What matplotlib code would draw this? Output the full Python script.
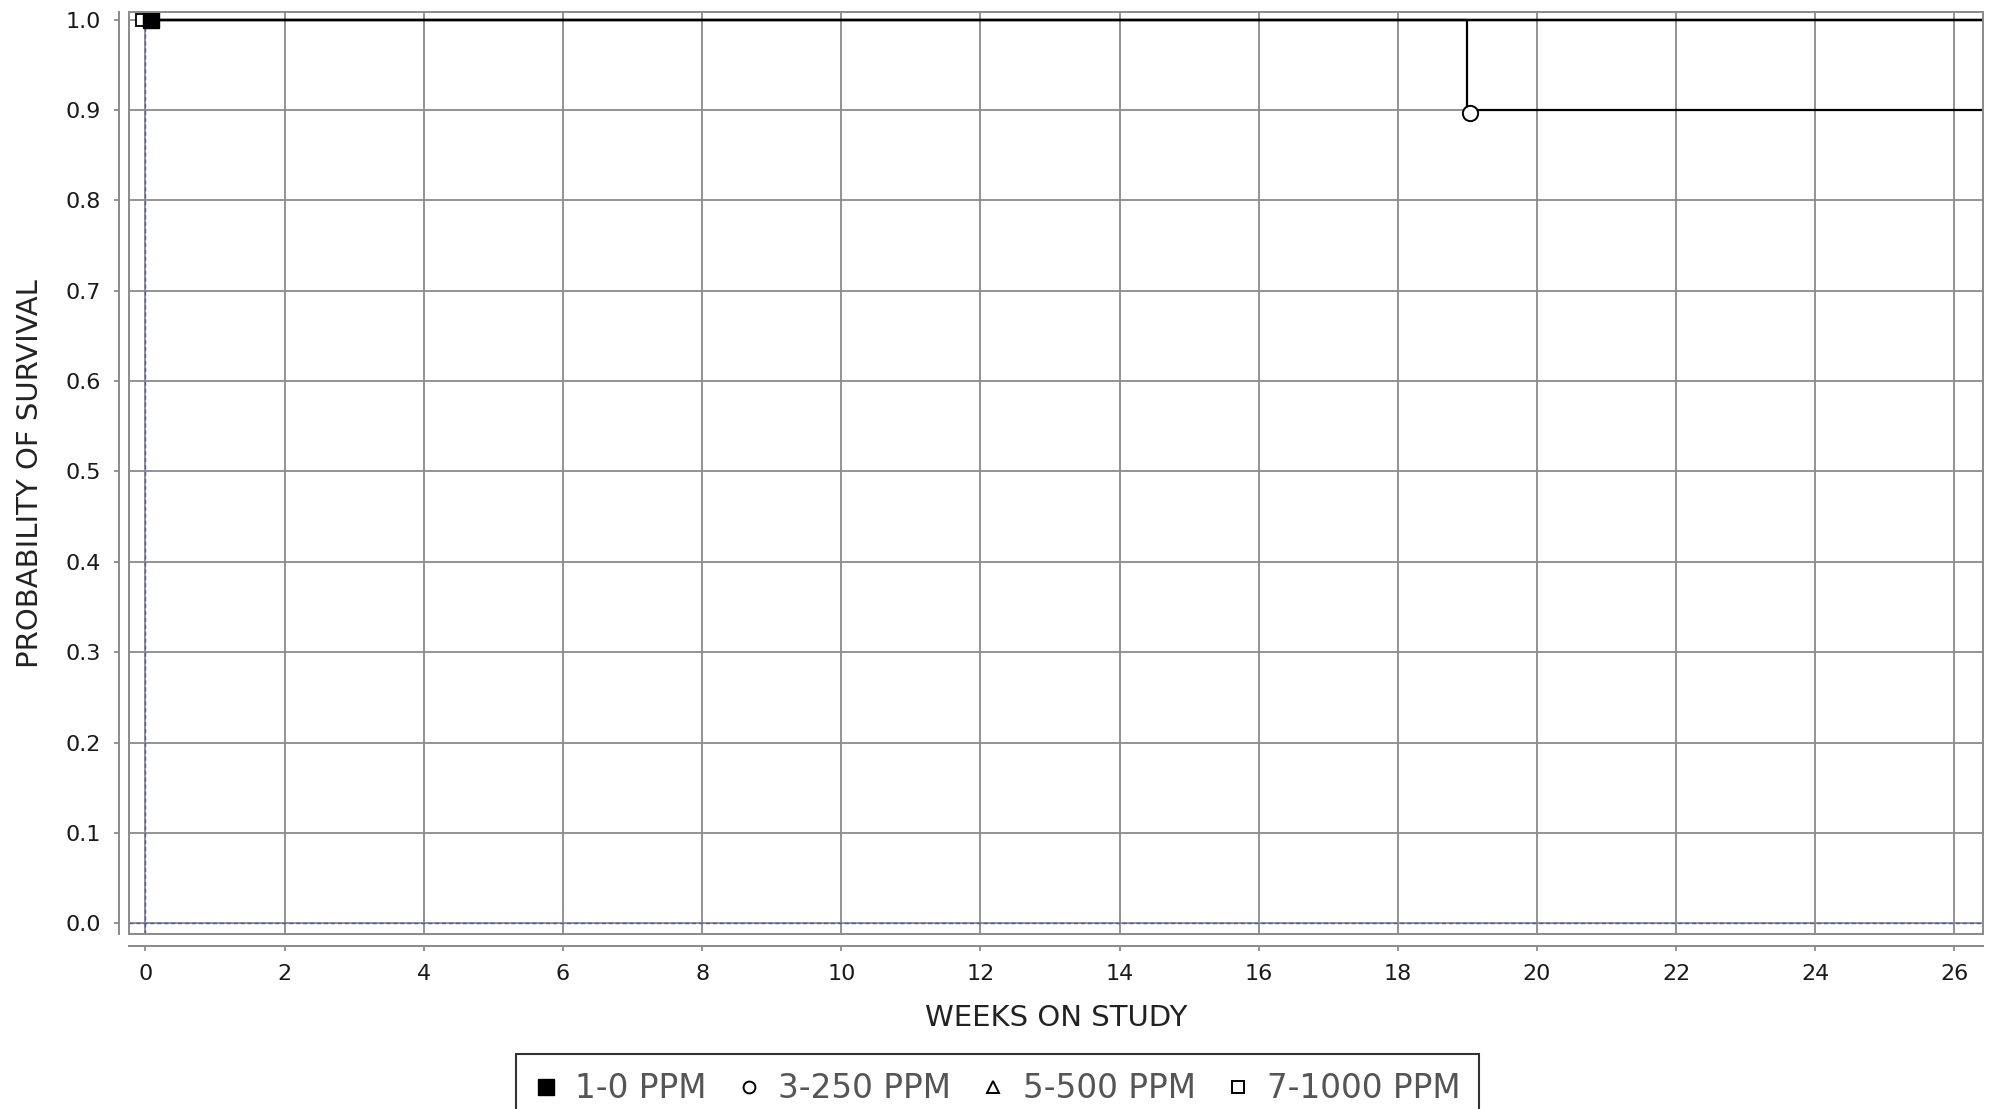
import matplotlib
matplotlib.use('Agg')
import matplotlib.pyplot as plt
from matplotlib.lines import Line2D
from matplotlib.patches import Rectangle

# survival curves (weeks on study, probability of survival)
series_labels = ['1-0 PPM', '3-250 PPM', '5-500 PPM', '7-1000 PPM']
weeks_1 = [0, 26.4]
surv_1 = [1.0, 1.0]
weeks_3 = [0, 19.0, 26.4]
surv_3 = [1.0, 0.9, 0.9]
weeks_5 = [0, 26.4]
surv_5 = [1.0, 1.0]
weeks_7 = [0, 26.4]
surv_7 = [1.0, 1.0]

# marked points on the curves
mark_weeks_1 = [0.08]
mark_surv_1 = [1.0]
mark_weeks_3 = [19.03]
mark_surv_3 = [0.897]
mark_weeks_7 = [-0.05]
mark_surv_7 = [1.0]

x_ticks = list(range(0, 27, 2))
y_ticks = [0.0, 0.1, 0.2, 0.3, 0.4, 0.5, 0.6, 0.7, 0.8, 0.9, 1.0]

W, H = 1995, 1109
fig = plt.figure(figsize=(W / 100, H / 100), dpi=100)
ax = fig.add_axes([129 / W, 1 - 934.3 / H, (1983 - 129) / W, (934.3 - 12) / H])

gray = '#8a8a8a'
ax.set_xlim(-0.237, 26.41)
ax.set_ylim(-0.0122, 1.0083)
ax.set_xticks(x_ticks)
ax.set_yticks(y_ticks)
ax.set_yticklabels(['%.1f' % v for v in y_ticks])
ax.grid(True, color=gray, lw=1.3)
ax.set_axisbelow(True)

# zero crosshair
ax.axvline(0, color='#4a4aff', lw=1.0, ls=(0, (3, 2)), zorder=1.5)
ax.axhline(0, color='#4a4aff', lw=1.0, ls=(0, (3, 2)), zorder=1.5)

# curves
for wk, sv in [(weeks_7, surv_7), (weeks_5, surv_5), (weeks_3, surv_3), (weeks_1, surv_1)]:
    ax.step(wk, sv, where='post', color='black', lw=1.6, zorder=3)

ax.plot(mark_weeks_7, mark_surv_7, ls='none', marker='s', ms=8.5, mfc='white', mec='black', mew=1.3, zorder=4)
ax.plot(mark_weeks_1, mark_surv_1, ls='none', marker='s', ms=11.5, mfc='black', mec='black', zorder=5)
ax.plot(mark_weeks_3, mark_surv_3, ls='none', marker='o', ms=11, mfc='white', mec='black', mew=1.4, zorder=5)

# plot border + offset axes
ax.add_patch(Rectangle((0, 0), 1, 1, transform=ax.transAxes, fill=False,
                       edgecolor=gray, lw=1.4, clip_on=False, zorder=6))
ax.spines['top'].set_visible(False)
ax.spines['right'].set_visible(False)
ax.spines['left'].set_position(('outward', 7.5))
ax.spines['bottom'].set_position(('outward', 8.2))
for s in ['left', 'bottom']:
    ax.spines[s].set_color(gray)
    ax.spines[s].set_linewidth(1.4)

ax.tick_params(axis='both', direction='out', length=3.8, width=1.3, color=gray,
               labelsize=16, labelcolor='#1a1a1a')
ax.tick_params(axis='y', pad=9)
ax.tick_params(axis='x', pad=9.5)

ax.set_xlabel('WEEKS ON STUDY', fontsize=21, color='#222222', labelpad=14)
ax.set_ylabel('PROBABILITY OF SURVIVAL', fontsize=21, color='#222222', labelpad=15)

# legend
handles = [
    Line2D([], [], ls='none', marker='s', ms=11, mfc='black', mec='black'),
    Line2D([], [], ls='none', marker='o', ms=8.5, mfc='white', mec='black', mew=1.4),
    Line2D([], [], ls='none', marker='^', ms=9, mfc='white', mec='black', mew=1.4),
    Line2D([], [], ls='none', marker='s', ms=8.5, mfc='white', mec='black', mew=1.4),
]
leg = fig.legend(handles, series_labels, loc='upper center', bbox_to_anchor=(0.5, 1 - 1054 / H),
                 ncol=4, fontsize=23.5, frameon=True, fancybox=False, handlelength=0.7,
                 handletextpad=0.55, columnspacing=0.95, borderpad=0.55, borderaxespad=0)
leg.get_frame().set_edgecolor('black')
leg.get_frame().set_linewidth(1.5)
for t in leg.get_texts():
    t.set_color('#555555')

fig.savefig('out.png', dpi=100)
